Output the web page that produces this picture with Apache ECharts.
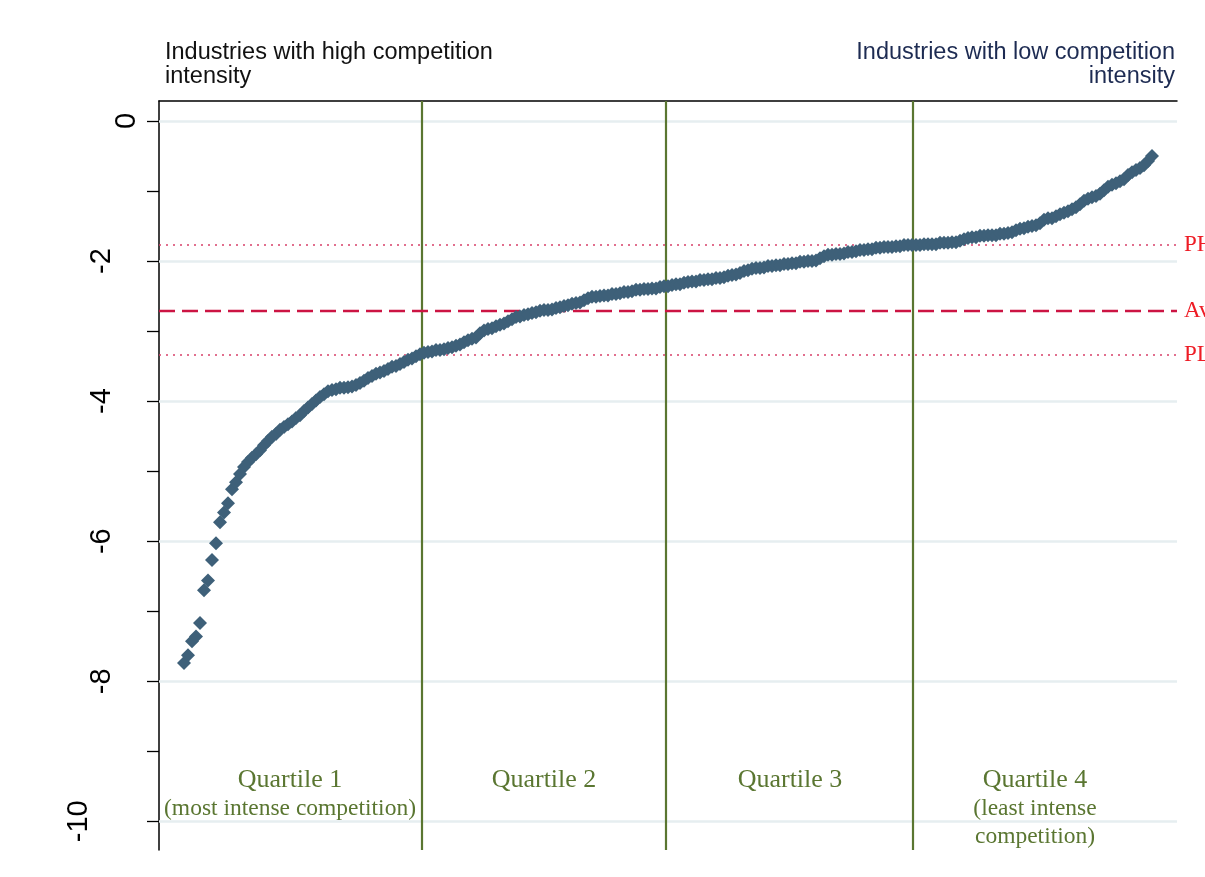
<!DOCTYPE html>
<html>
<head>
<meta charset="utf-8">
<title>Competition intensity by industry</title>
<script src="https://cdn.jsdelivr.net/npm/echarts@6/dist/echarts.min.js"></script>
<style>
  html, body { margin: 0; padding: 0; background: #ffffff; }
  #chart { width: 1205px; height: 877px; }
</style>
</head>
<body>
<div id="chart"></div>
<script>
// Industry scores, sorted from most to least intense competition (one value per industry rank)
const quartile1 = [
  -7.74, -7.63, -7.43, -7.36, -7.17, -6.70, -6.56, -6.27, -6.03, -5.73,
  -5.59, -5.46, -5.26, -5.16, -5.04, -4.94, -4.87, -4.81, -4.76, -4.70,
  -4.63, -4.57, -4.51, -4.47, -4.41, -4.37, -4.33, -4.29, -4.24, -4.20,
  -4.14, -4.09, -4.04, -3.99, -3.94, -3.90, -3.86, -3.84, -3.83, -3.81,
  -3.81, -3.80, -3.79, -3.77, -3.74, -3.71, -3.67, -3.64, -3.61, -3.59,
  -3.57, -3.54, -3.51, -3.50, -3.47, -3.44, -3.41, -3.39, -3.36, -3.33
];
const quartile2 = [
  -3.31, -3.30, -3.29, -3.27, -3.27, -3.26, -3.24, -3.23, -3.21, -3.19,
  -3.16, -3.13, -3.11, -3.09, -3.03, -2.99, -2.97, -2.96, -2.93, -2.91,
  -2.89, -2.86, -2.83, -2.80, -2.79, -2.77, -2.76, -2.74, -2.73, -2.71,
  -2.70, -2.70, -2.69, -2.67, -2.66, -2.64, -2.63, -2.61, -2.60, -2.59,
  -2.56, -2.53, -2.51, -2.51, -2.50, -2.49, -2.49, -2.47, -2.47, -2.46,
  -2.44, -2.44, -2.43, -2.41, -2.41, -2.40, -2.40, -2.39, -2.39, -2.37,
  -2.36
];
const quartile3 = [
  -2.36, -2.34, -2.33, -2.33, -2.31, -2.30, -2.29, -2.29, -2.27, -2.27,
  -2.26, -2.26, -2.24, -2.24, -2.23, -2.21, -2.20, -2.19, -2.17, -2.14,
  -2.13, -2.11, -2.10, -2.10, -2.09, -2.07, -2.07, -2.06, -2.06, -2.04,
  -2.04, -2.03, -2.03, -2.01, -2.01, -2.00, -2.00, -1.99, -1.96, -1.93,
  -1.91, -1.91, -1.90, -1.90, -1.89, -1.87, -1.87, -1.86, -1.84, -1.84,
  -1.83, -1.83, -1.81, -1.81, -1.80, -1.80, -1.80, -1.79, -1.79, -1.77,
  -1.77
];
const quartile4 = [
  -1.77, -1.77, -1.77, -1.76, -1.76, -1.76, -1.76, -1.74, -1.74, -1.74,
  -1.73, -1.73, -1.71, -1.69, -1.67, -1.66, -1.66, -1.64, -1.64, -1.63,
  -1.63, -1.63, -1.61, -1.61, -1.60, -1.59, -1.56, -1.54, -1.53, -1.51,
  -1.50, -1.49, -1.46, -1.41, -1.39, -1.39, -1.36, -1.33, -1.31, -1.29,
  -1.26, -1.23, -1.19, -1.14, -1.11, -1.09, -1.07, -1.04, -0.99, -0.94,
  -0.91, -0.89, -0.86, -0.83, -0.77, -0.73, -0.70, -0.67, -0.63, -0.57,
  -0.50
];

// Rank positions separating the quartiles
const quartileCuts = [60.5, 121.5, 183.2];

// Reference levels: high percentile, average, low percentile
const refNames = ['PH', 'Average', 'PL'];
const refValues = [-1.77, -2.71, -3.34];

// Y axis ticks
const yMajorTicks = [-10, -8, -6, -4, -2, 0];
const yAllTicks = [-10, -9, -8, -7, -6, -5, -4, -3, -2, -1, 0];

// Text annotations
const leftNote = 'Industries with high competition\nintensity';
const rightNote = 'Industries with low competition\nintensity';
const quartileTitles = ['Quartile 1', 'Quartile 2', 'Quartile 3', 'Quartile 4'];
const quartileSubtitles = ['(most intense competition)', '', '', '(least intense\ncompetition)'];

const values = quartile1.concat(quartile2, quartile3, quartile4);
const points = values.map((v, i) => [i + 1, v]);

const GREEN = '#5a7631';
const RED_TEXT = '#ee1c25';

const chart = echarts.init(document.getElementById('chart'), null, { renderer: 'canvas' });

const refStyles = [
  { type: [2, 5], color: '#d8406a', width: 1.6 },
  { type: [16, 7], color: '#cc1443', width: 2.4 },
  { type: [2, 5], color: '#d8406a', width: 1.6 }
];

const LABEL_FONT = 'Liberation Sans, Arial, sans-serif';
const SERIF = 'Liberation Serif, Times New Roman, serif';

const option = {
  backgroundColor: '#ffffff',
  animation: false,
  grid: { left: 159, right: 28, top: 101, bottom: 27, containLabel: false },
  xAxis: {
    type: 'value',
    position: 'top',
    min: -5.25,
    max: 249.25,
    axisLine: { show: true, onZero: false, lineStyle: { color: '#000000', width: 1.5 } },
    axisTick: { show: false },
    axisLabel: { show: false },
    splitLine: { show: false }
  },
  yAxis: {
    type: 'value',
    min: -10.41,
    max: 0.286,
    axisLine: { show: true, onZero: false, lineStyle: { color: '#000000', width: 1.5 } },
    axisTick: { show: true, length: 12, customValues: yAllTicks, lineStyle: { color: '#000000', width: 1.3 } },
    minorTick: { show: false },
    splitLine: { show: false },
    axisLabel: {
      show: true,
      customValues: yMajorTicks,
      rotate: 90,
      margin: 18,
      fontFamily: LABEL_FONT,
      fontSize: 29,
      color: '#000000',
      formatter: function (v) {
        const s = String(v);
        if (s.length >= 3) return '{c|' + s + '}';
        if (s.length === 2) return '{b|' + s + '}';
        return '{a|' + s + '}';
      },
      rich: {
        a: { fontSize: 29, fontFamily: LABEL_FONT, color: '#000', padding: [0, 0, 0, 0] },
        b: { fontSize: 29, fontFamily: LABEL_FONT, color: '#000', padding: [0, 0, 25, 0] },
        c: { fontSize: 29, fontFamily: LABEL_FONT, color: '#000', padding: [0, 0, 48, 0] }
      }
    }
  },
  series: [
    {
      // light horizontal grid at the major ticks
      type: 'line',
      data: [],
      silent: true,
      z: 1,
      markLine: {
        silent: true,
        symbol: ['none', 'none'],
        label: { show: false },
        lineStyle: { color: '#e6eef0', width: 2.5, type: 'solid' },
        data: yMajorTicks.map(v => ({ yAxis: v }))
      }
    },
    {
      // quartile boundaries
      type: 'line',
      data: [],
      silent: true,
      z: 3,
      markLine: {
        silent: true,
        symbol: ['none', 'none'],
        label: { show: false },
        lineStyle: { color: GREEN, width: 2.2, type: 'solid' },
        data: quartileCuts.map(v => ({ xAxis: v }))
      }
    },
    {
      // reference levels
      type: 'line',
      data: [],
      silent: true,
      z: 2,
      markLine: {
        silent: true,
        symbol: ['none', 'none'],
        data: refValues.map((v, i) => ({
          yAxis: v,
          name: refNames[i],
          lineStyle: refStyles[i],
          label: {
            show: true,
            position: 'end',
            distance: 7,
            formatter: refNames[i],
            color: RED_TEXT,
            fontFamily: SERIF,
            fontSize: 23
          }
        }))
      }
    },
    {
      type: 'scatter',
      data: points,
      symbol: 'diamond',
      symbolSize: 14,
      z: 5,
      itemStyle: { color: '#3e6079', opacity: 1 }
    }
  ],
  graphic: [
    {
      type: 'text', x: 165, y: 41, z: 10,
      style: {
        text: leftNote, fill: '#111111', fontSize: 23.5, lineHeight: 24,
        fontFamily: LABEL_FONT
      }
    },
    {
      type: 'text', x: 1175, y: 41, z: 10,
      style: {
        text: rightNote, fill: '#1d2b52', fontSize: 23.5, lineHeight: 24, align: 'right',
        fontFamily: LABEL_FONT
      }
    },
    ...[290, 544, 790, 1035].map((cx, i) => ({
      type: 'text', x: cx, y: 780, z: 10,
      style: {
        text: quartileTitles[i], fill: GREEN, fontSize: 26,
        fontFamily: SERIF,
        align: 'center', verticalAlign: 'middle'
      }
    })),
    ...[290, 1035].map((cx, k) => {
      const i = k === 0 ? 0 : 3;
      return {
        type: 'text', x: cx, y: 795, z: 10,
        style: {
          text: quartileSubtitles[i], fill: GREEN, fontSize: 23.5, lineHeight: 28,
          fontFamily: SERIF,
          align: 'center', verticalAlign: 'top'
        }
      };
    })
  ]
};

chart.setOption(option);
</script>
</body>
</html>
